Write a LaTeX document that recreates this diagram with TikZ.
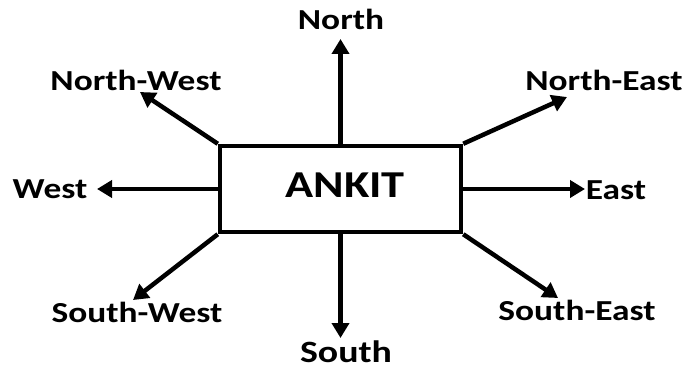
\documentclass[tikz,border=0pt]{standalone}
\usepackage{fontspec}
\setmainfont{Carlito}[FakeStretch=1.22]
\usetikzlibrary{arrows.meta}
\tikzset{
  dirarrow/.style={line width=4.5pt,-{Triangle[length=15pt,width=17pt]}},
  dirlabel/.style={anchor=base,inner sep=0pt,font=\fontsize{29}{30}\selectfont\bfseries},
  centerbox/.style={draw,line width=4.5pt,minimum width=241pt,minimum height=86pt,inner sep=0pt}
}
\begin{document}
\begin{tikzpicture}[x=1pt,y=-1pt]
\useasboundingbox (0,0) rectangle (691,369);
\node[centerbox] (box) at (340.5,189) {};
\node[anchor=base,inner sep=0pt,font=\fontsize{38}{40}\selectfont\bfseries] (name) at (345,197) {ANKIT};
% labels
\node[dirlabel] (n) at (341,30) {North};
\node[dirlabel] (nw) at (136,91) {North-West};
\node[dirlabel] (ne) at (604,91) {North-East};
\node[dirlabel] (w) at (50,198) {West};
\node[dirlabel] (e) at (616,199) {East};
\node[dirlabel] (sw) at (137,322) {South-West};
\node[dirlabel] (se) at (577,320) {South-East};
\node[dirlabel,font=\fontsize{31}{32}\selectfont\bfseries] (s) at (346,362.5) {South};
% arrow tips
\coordinate (tn) at (340.5,39);
\coordinate (tnw) at (140,92);
\coordinate (tne) at (567,97);
\coordinate (tw) at (97,189);
\coordinate (te) at (585,189);
\coordinate (tsw) at (133,300);
\coordinate (ts) at (340.5,338);
\coordinate (tse) at (558,298);
% arrows
\draw[dirarrow] (box.north) -- (tn);
\draw[dirarrow] (box.north west) -- (tnw);
\draw[dirarrow] (box.north east) -- (tne);
\draw[dirarrow] (box.west) -- (tw);
\draw[dirarrow] (box.east) -- (te);
\draw[dirarrow] (box.south west) -- (tsw);
\draw[dirarrow] (box.south) -- (ts);
\draw[dirarrow] (box.south east) -- (tse);
\end{tikzpicture}
\end{document}
